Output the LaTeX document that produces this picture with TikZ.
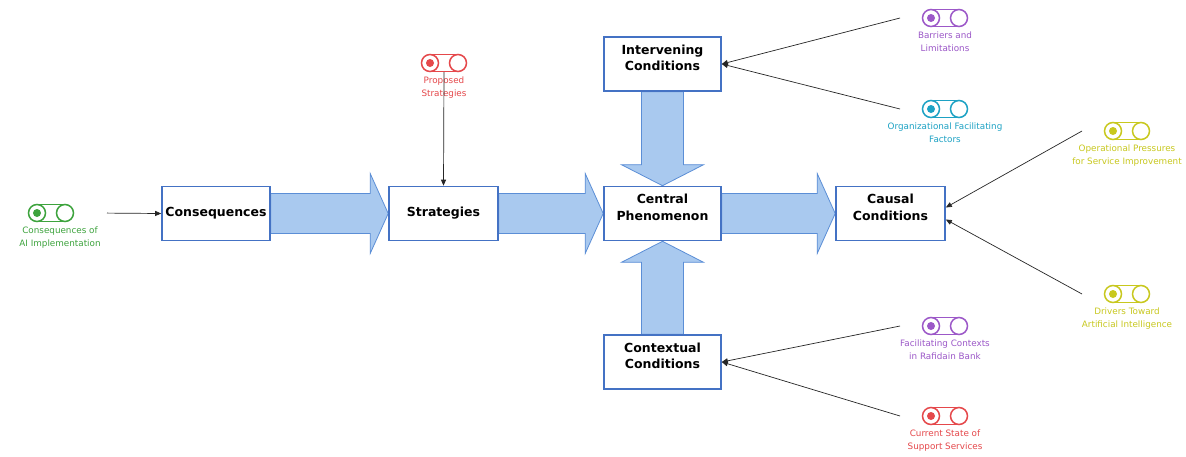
\documentclass[tikz,border=0pt]{standalone}
\usepackage{fontspec}
\setmainfont{DejaVu Sans}
\usetikzlibrary{arrows.meta,calc,backgrounds}

\definecolor{boxblue}{HTML}{4472C4}
\definecolor{arrowfill}{HTML}{A9C9EF}
\definecolor{arrowedge}{HTML}{5B8ED6}
\definecolor{tgreen}{HTML}{3DA33D}
\definecolor{tred}{HTML}{E5484B}
\definecolor{tpurple}{HTML}{9C58C8}
\definecolor{tteal}{HTML}{1DA2C4}
\definecolor{tyellow}{HTML}{C8C81E}

% fat block arrows between boxes
\newcommand\blockright[2]{%
  \path[blockarrow] let \p1=(#1.east), \p2=(#2.west) in
    (\x1,\y1+20pt) -- (\x2-18pt,\y1+20pt) -- (\x2-18pt,\y1+40pt) -- (\x2,\y1)
    -- (\x2-18pt,\y1-40pt) -- (\x2-18pt,\y1-20pt) -- (\x1,\y1-20pt) -- cycle;}
\newcommand\blockdown[2]{%
  \path[blockarrow] let \p1=(#1.south), \p2=(#2.north) in
    (\x1-21pt,\y1) -- (\x1-21pt,\y2+21pt) -- (\x1-41pt,\y2+21pt) -- (\x1,\y2)
    -- (\x1+41pt,\y2+21pt) -- (\x1+21pt,\y2+21pt) -- (\x1+21pt,\y1) -- cycle;}
\newcommand\blockup[2]{%
  \path[blockarrow] let \p1=(#1.north), \p2=(#2.south) in
    (\x1-21pt,\y1) -- (\x1-21pt,\y2-21pt) -- (\x1-41pt,\y2-21pt) -- (\x1,\y2)
    -- (\x1+41pt,\y2-21pt) -- (\x1+21pt,\y2-21pt) -- (\x1+21pt,\y1) -- cycle;}

\begin{document}
\begin{tikzpicture}[x=1pt,y=-1pt,
  box/.style={draw=boxblue, line width=1.6pt, fill=white, minimum width=#1,
    minimum height=54pt, inner sep=0pt, align=center,
    font=\fontsize{12.5}{16.5}\selectfont\bfseries},
  boxtxt/.style={anchor=center, yshift=6pt, align=center, inner sep=0pt,
    font=\fontsize{12.5}{16.5}\selectfont\bfseries},
  blockarrow/.style={fill=arrowfill, draw=arrowedge, line width=0.8pt, line join=miter},
  iconspot/.style={minimum width=90pt, minimum height=18pt, inner sep=0pt, outer sep=0pt},
  lab/.style={text=#1, anchor=north, align=center, inner sep=0pt,
    font=\fontsize{8.8}{12.5}\selectfont},
  conn/.style={draw=black!85, line width=0.7pt, -{Triangle[length=6pt,width=5pt]}},
  pics/toggle/.style={code={
    \draw[line width=1.5pt] (-14,-8.5) -- (14,-8.5) (-14,8.5) -- (14,8.5);
    \draw[line width=1.5pt] (-14,0) circle[radius=8.5pt] (14,0) circle[radius=8.5pt];
    \fill (-14,0) circle[radius=4pt];
  }}
]
\useasboundingbox (0,0) rectangle (1186,456);

% main boxes
\node[box=108pt] (cons)   at (216,213.5)   {Consequences};
\node[box=109pt] (strat)  at (443.5,213.5) {Strategies};
\node[box=117pt, label={[boxtxt]center:Central\\Phenomenon}] (central) at (662.5,213.5) {};
\node[box=109pt, label={[boxtxt]center:Causal\\Conditions}]  (causal)  at (890.5,213.5) {};
\node[box=117pt, label={[boxtxt]center:Intervening\\Conditions}] (interv) at (662.5,64) {};
\node[box=117pt, label={[boxtxt]center:Contextual\\Conditions}]  (context) at (662.5,362) {};

% white page, then the block arrows behind the boxes
\begin{scope}[on background layer]
  \fill[white] (0,0) rectangle (1186,456);
  \blockright{cons}{strat}
  \blockright{strat}{central}
  \blockright{central}{causal}
  \blockdown{interv}{central}
  \blockup{context}{central}
\end{scope}

% toggle markers with their captions
\node[iconspot] (aiimpl) at (51,213) {};
\pic[tgreen] at (aiimpl) {toggle};
\node[lab=tgreen] (aiimpltxt) at ($(aiimpl.south)+(9,5)$) {Consequences of\\AI Implementation};

\node[iconspot, minimum width=18pt] (proposed) at (444,63) {};
\pic[tred] at (proposed) {toggle};
\node[lab=tred] (proposedtxt) at ($(proposed.south)+(0,5)$) {Proposed\\Strategies};

\node[iconspot] (barriers) at (945,18) {};
\pic[tpurple] at (barriers) {toggle};
\node[lab=tpurple] (barrierstxt) at ($(barriers.south)+(0,5)$) {Barriers and\\Limitations};

\node[iconspot] (orgfac) at (945,109) {};
\pic[tteal] at (orgfac) {toggle};
\node[lab=tteal] (orgfactxt) at ($(orgfac.south)+(0,5)$) {Organizational Facilitating\\Factors};

\node[iconspot] (oppress) at (1127,131) {};
\pic[tyellow] at (oppress) {toggle};
\node[lab=tyellow] (oppresstxt) at ($(oppress.south)+(0,5)$) {Operational Pressures\\for Service Improvement};

\node[iconspot] (drivers) at (1127,294) {};
\pic[tyellow] at (drivers) {toggle};
\node[lab=tyellow] (driverstxt) at ($(drivers.south)+(0,5)$) {Drivers Toward\\Artificial Intelligence};

\node[iconspot] (faccont) at (945,326) {};
\pic[tpurple] at (faccont) {toggle};
\node[lab=tpurple] (faccontxt) at ($(faccont.south)+(0,5)$) {Facilitating Contexts\\in Rafidain Bank};

\node[iconspot] (current) at (945,416) {};
\pic[tred] at (current) {toggle};
\node[lab=tred] (currenttxt) at ($(current.south)+(0,5)$) {Current State of\\Support Services};

% thin connectors into the boxes
\draw[conn, shorten <=11pt] (aiimpl.east) -- (cons.west);
\draw[conn] (proposed.south) -- (strat.north);
\draw[conn] (barriers.west) -- (interv.east);
\draw[conn] (orgfac.west) -- (interv.east);
\draw[conn] (oppress.west) -- ($(causal.east)+(0,-6)$);
\draw[conn] (drivers.west) -- ($(causal.east)+(0,6)$);
\draw[conn] (faccont.west) -- (context.east);
\draw[conn] (current.west) -- (context.east);
\end{tikzpicture}
\end{document}
